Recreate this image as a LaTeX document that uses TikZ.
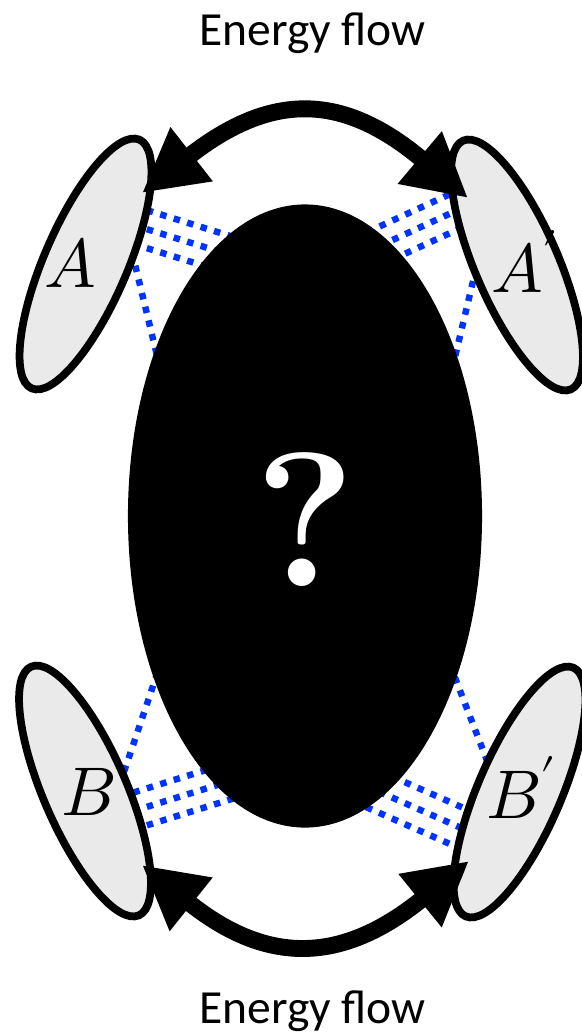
\documentclass[tikz,border=0pt]{standalone}
\usepackage{fontspec}
\usepackage{unicode-math}
\newfontfamily\captionfont{Carlito}
\usetikzlibrary{shapes.geometric,arrows.meta}
\definecolor{linkblue}{RGB}{0,51,255}
\definecolor{partfill}{RGB}{234,234,234}
\tikzset{
  part/.style={ellipse, draw=black, fill=partfill, line width=5.5pt, inner sep=0pt,
    minimum width=6.775cm, minimum height=2.075cm},
  link/.style={linkblue, line width=4.6pt, dash pattern=on 4.6pt off 5.4pt},
  flow/.style={line width=12pt,
    {Triangle[length=1.575cm,width=1.6cm]}-{Triangle[length=1.575cm,width=1.6cm]}},
  flowcaption/.style={font=\captionfont\fontsize{33.8}{40}\selectfont, anchor=base},
  partlabel/.style={font=\fontsize{49}{49}\selectfont, anchor=base, inner sep=0pt},
}
\begin{document}
\begin{tikzpicture}[x=0.025cm, y=0.025cm]
        \useasboundingbox (0,0) rectangle (581,-1035);
        % Kopplungen, blau gepunktet
        \foreach \y in {210.5,229.5,248.5}
        \draw[link] (120,{8.68-\y}) -- (260,{-34.72-\y});
        \foreach \y in {195,214.5,234}
        \draw[link] (475,{12.42-\y}) -- (340,{-49.68-\y});
        \foreach \y in {788,806.5,825}
        \draw[link] (120,{-8.68-\y}) -- (260,{34.72-\y});
        \foreach \y in {802,823,844}
        \draw[link] (475,{-11-\y}) -- (340,{48.4-\y});
        \draw[link] (132,-252) -- (175,-430);
        \draw[link] (482.8,-240) -- (437.7,-430);
        \draw[link] (119.6,-785) -- (182,-600);
        \draw[link] (492.6,-775) -- (425,-600);
        % unbekanntes System
        \node[ellipse, fill=black, inner sep=0pt, minimum width=8.85cm,
          minimum height=15.575cm] (core) at (305,-516) {};
        \node[text=white, font=\bfseries\fontsize{136}{136}\selectfont, inner sep=0pt]
          (mark) at (305,-520) {?};
        % Teilsysteme
        \node[part, rotate=66.6] (A) at (85.5,-264) {};
        \node[part, rotate=-66.6] (Ap) at (517,-265) {};
        \node[part, rotate=-66.6] (B) at (85,-791) {};
        \node[part, rotate=66.6] (Bp) at (519.5,-792) {};
        \node[partlabel] (labA) at (70.5,-287) {$A$};
        \node[partlabel] (labAp) at (525,-292) {$A'$};
        \node[partlabel] (labB) at (88.5,-815) {$B$};
        \node[partlabel] (labBp) at (521.5,-818) {$B'$};
        % Energiefluss
        \coordinate (tipA) at (142,-193);
        \coordinate (tipAp) at (468,-198);
        \coordinate (tipB) at (142,-865);
        \coordinate (tipBp) at (469,-861);
        \draw[flow] (tipA) .. controls +(38:164) and +(140:164) .. (tipAp);
        \draw[flow] (tipB) .. controls +(-38.7:162) and +(-141:162) .. (tipBp);
        \node[flowcaption] (flowtop) at (312.5,-45) {Energy flow};
        \node[flowcaption] (flowbottom) at (312.5,-1023) {Energy flow};
\end{tikzpicture}
\end{document}
